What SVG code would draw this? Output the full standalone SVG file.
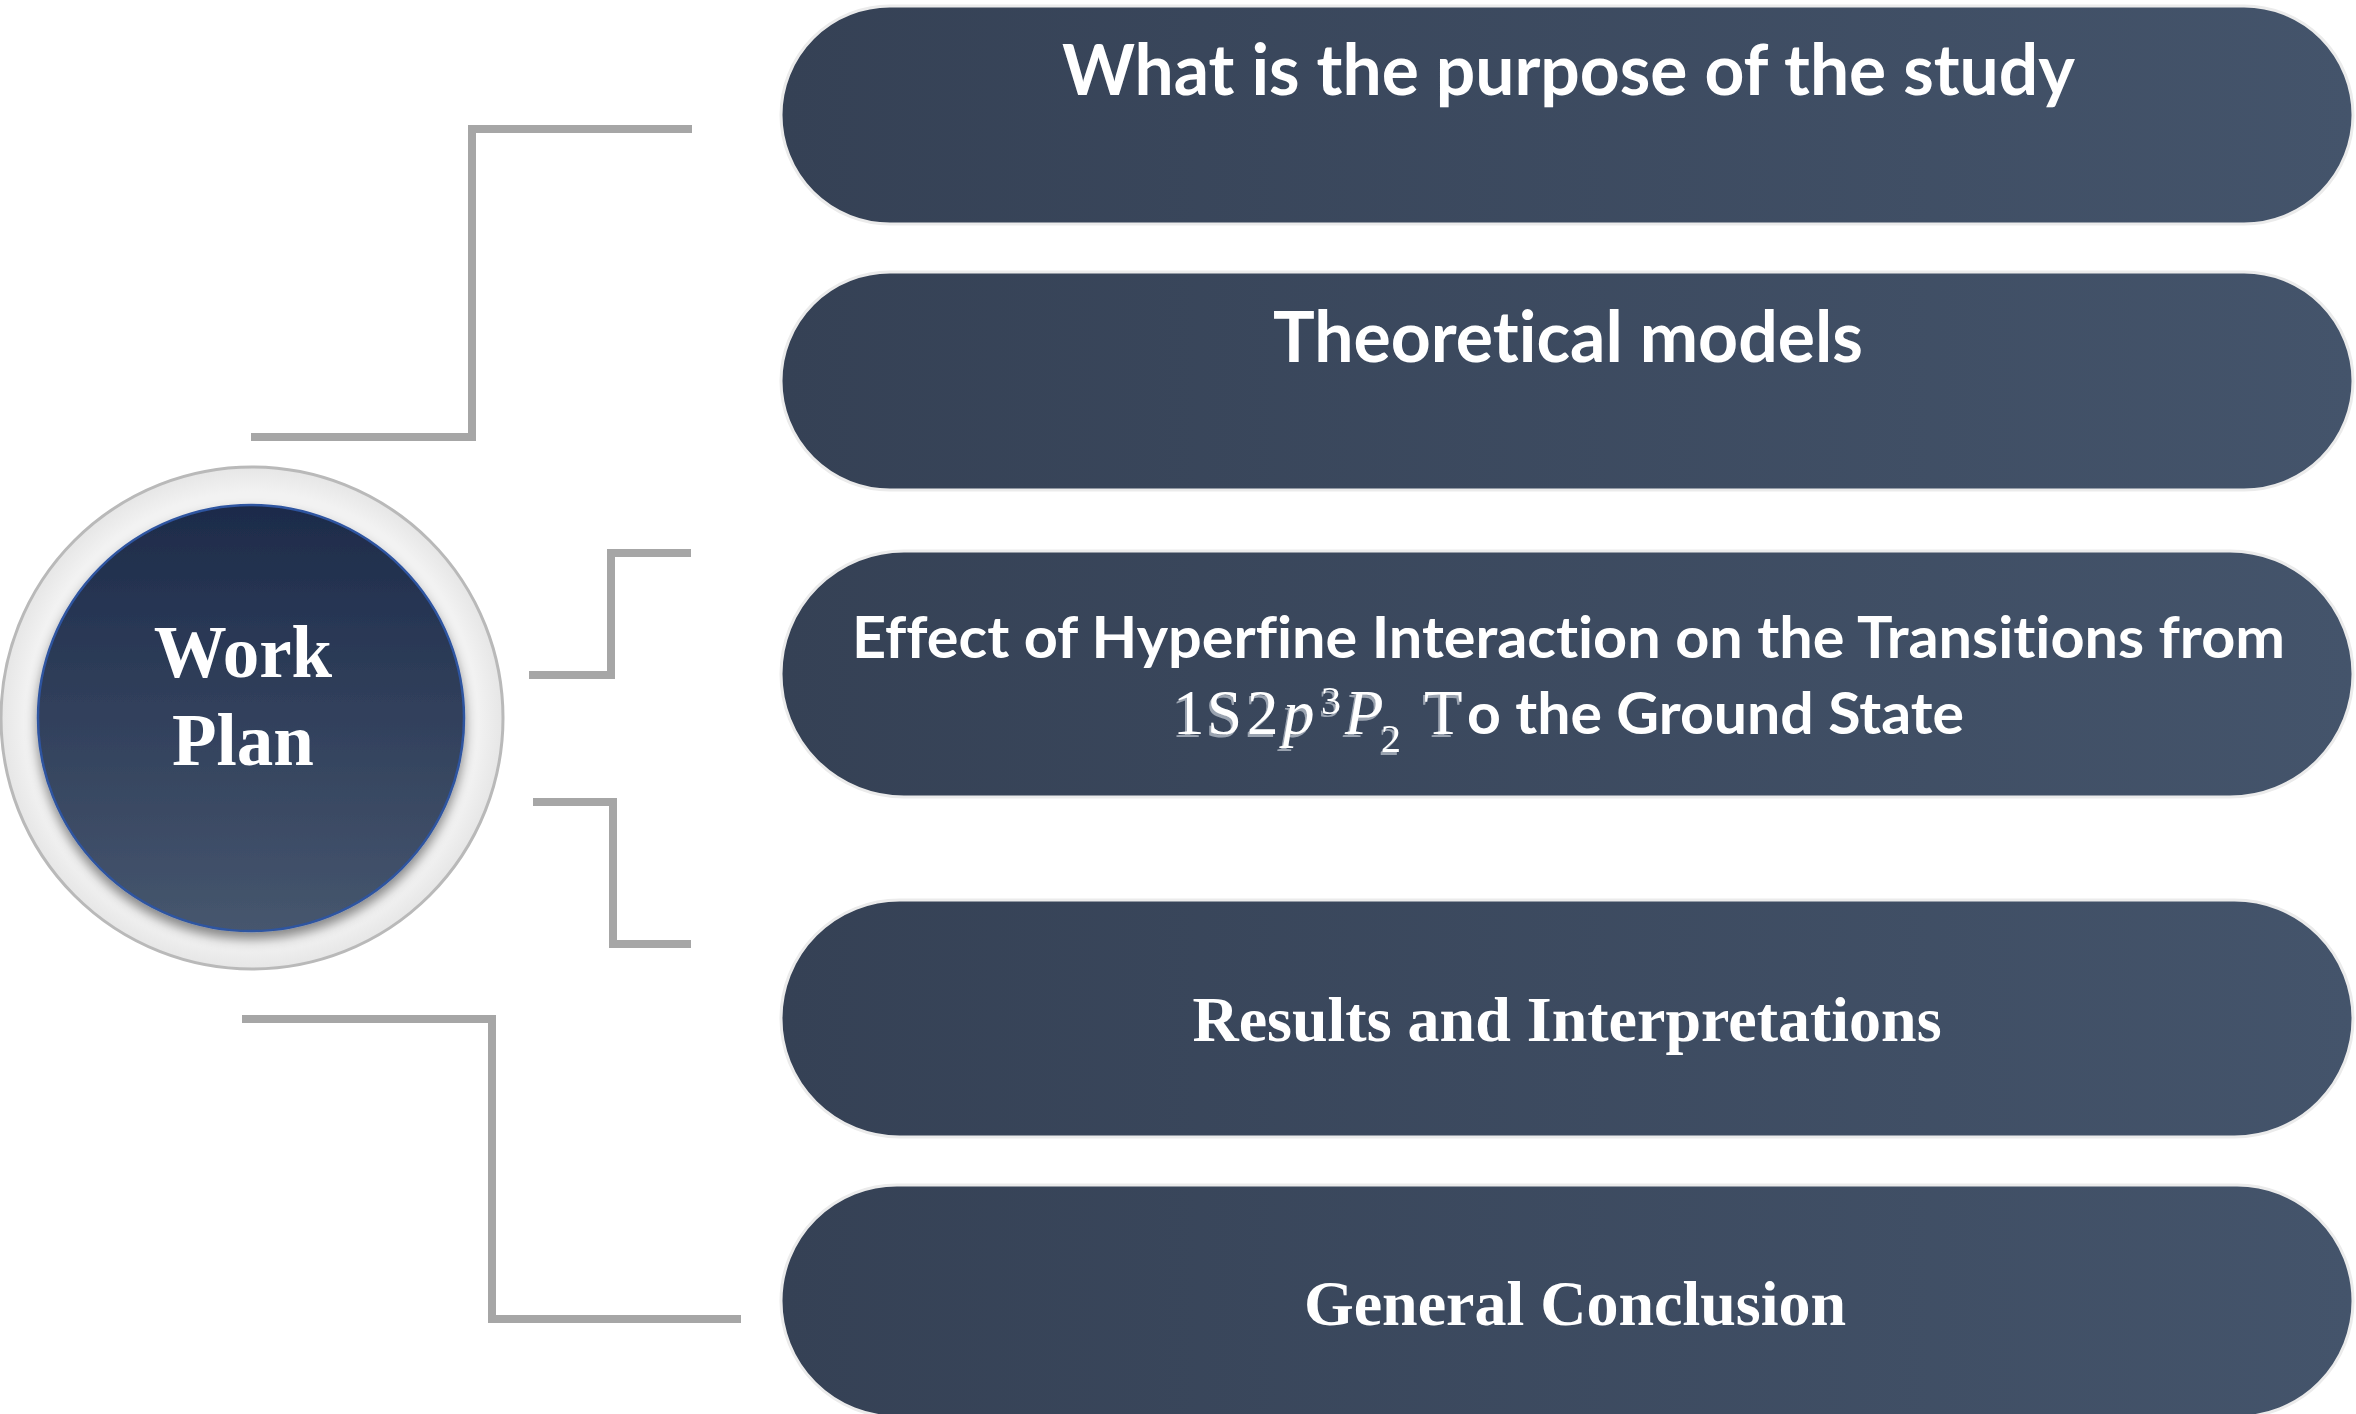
<svg xmlns="http://www.w3.org/2000/svg" width="2356" height="1414" viewBox="0 0 2356 1414">
<defs>
  <linearGradient id="pillGrad" x1="0" y1="0" x2="1" y2="0">
    <stop offset="0" stop-color="#354155"/>
    <stop offset="1" stop-color="#44546b"/>
  </linearGradient>
  <linearGradient id="coreGrad" x1="0" y1="0" x2="0" y2="1">
    <stop offset="0" stop-color="#1d2b4a"/>
    <stop offset="1" stop-color="#46566e"/>
  </linearGradient>
  <radialGradient id="ringGrad" cx="0.5" cy="0.5" r="0.5">
    <stop offset="0.9" stop-color="#f2f2f2"/>
    <stop offset="1" stop-color="#e6e6e6"/>
  </radialGradient>
  <filter id="coreShadow" x="-20%" y="-20%" width="140%" height="140%">
    <feDropShadow dx="0" dy="7" stdDeviation="6" flood-color="#000" flood-opacity="0.45"/>
  </filter>
  <filter id="engrave" x="-10%" y="-10%" width="120%" height="130%">
    <feDropShadow dx="-2" dy="3" stdDeviation="0.6" flood-color="#9aa3b0" flood-opacity="1"/>
  </filter>
</defs>
<style>
  .pill { fill: url(#pillGrad); stroke: #ebebeb; stroke-width: 3; }
  .sans { font-family: Lato, "Open Sans", "Liberation Sans", sans-serif; font-weight: 700; fill: #ffffff; font-variant-ligatures: none; font-feature-settings: "liga" 0, "dlig" 0, "clig" 0; }
  .serif { font-family: "Liberation Serif", "Times New Roman", serif; font-weight: 700; fill: #ffffff; }
  .math { font-family: "Liberation Serif", "DejaVu Serif", serif; font-weight: 400; fill: #ffffff; }
  .conn { fill: none; stroke: #a6a6a6; stroke-width: 8; stroke-linejoin: miter; stroke-linecap: butt; }
</style>
<rect width="2356" height="1414" fill="#ffffff"/>

<g id="connectors">
  <polyline class="conn" points="251,437 472,437 472,129 692,129"/>
  <polyline class="conn" points="529,675 611,675 611,553 691,553"/>
  <polyline class="conn" points="533,802 613,802 613,944 691,944"/>
  <polyline class="conn" points="242,1019 492,1019 492,1319 741,1319"/>
</g>

<g id="work-plan">
  <circle cx="252" cy="718" r="251" fill="url(#ringGrad)" stroke="#b9b9b9" stroke-width="3"/>
  <circle cx="251" cy="718" r="213" fill="url(#coreGrad)" stroke="#2f54a0" stroke-width="2.5" filter="url(#coreShadow)"/>
  <text class="serif" font-size="73" text-anchor="middle" x="243" y="677">Work</text>
  <text class="serif" font-size="73" text-anchor="middle" x="243" y="765">Plan</text>
</g>

<g id="purpose">
  <rect class="pill" x="781" y="6" width="1572" height="218" rx="109" ry="109"/>
  <text class="sans" font-size="70" x="1062" y="95" textLength="1013" lengthAdjust="spacingAndGlyphs">What is the purpose of the study</text>
</g>

<g id="theoretical-models">
  <rect class="pill" x="781" y="272" width="1572" height="218" rx="109" ry="109"/>
  <text class="sans" font-size="70" x="1273" y="362" textLength="590" lengthAdjust="spacingAndGlyphs">Theoretical models</text>
</g>

<g id="hyperfine">
  <rect class="pill" x="781" y="551" width="1572" height="246" rx="123" ry="123"/>
  <text class="sans" font-size="57" x="852" y="658" textLength="1433" lengthAdjust="spacingAndGlyphs">Effect of Hyperfine Interaction on the Transitions from</text>
  <text class="math" font-size="63" y="734" filter="url(#engrave)"><tspan x="1173">1</tspan><tspan x="1207">S</tspan><tspan x="1247">2</tspan><tspan x="1283" font-style="italic">p</tspan><tspan x="1321" y="714" font-size="40">3</tspan><tspan x="1345" y="734" font-style="italic">P</tspan><tspan x="1381" y="752" font-size="40">2</tspan><tspan x="1424" y="734">T</tspan></text>
  <text class="sans" font-size="57" x="1467" y="734" textLength="497" lengthAdjust="spacingAndGlyphs">o the Ground State</text>
</g>

<g id="results">
  <rect class="pill" x="781" y="900" width="1572" height="237" rx="118.5" ry="118.5"/>
  <text class="serif" font-size="64" text-anchor="middle" x="1567" y="1041">Results and Interpretations</text>
</g>

<g id="conclusion">
  <rect class="pill" x="781" y="1185" width="1572" height="232" rx="116" ry="116"/>
  <text class="serif" font-size="64" text-anchor="middle" x="1575" y="1325">General Conclusion</text>
</g>
</svg>
